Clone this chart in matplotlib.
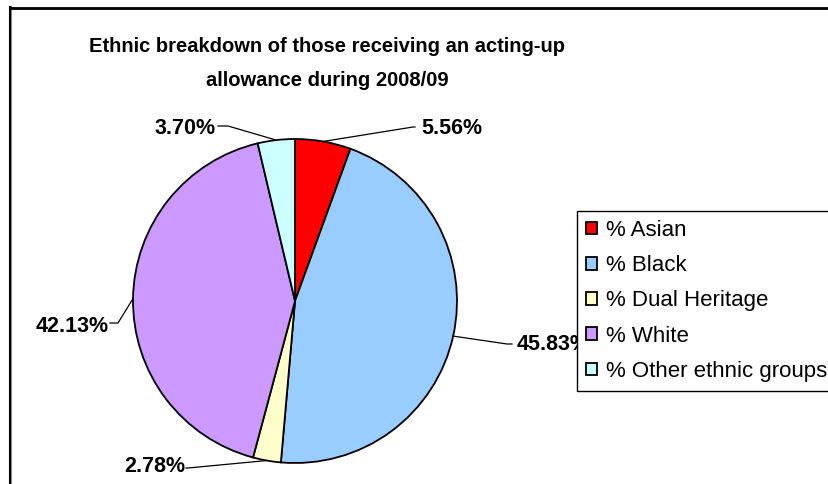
import matplotlib.pyplot as plt
import numpy as np
from matplotlib.lines import Line2D

plt.rcParams['font.family'] = ['Liberation Sans', 'DejaVu Sans']

# data
groups = ["% Asian", "% Black", "% Dual Heritage", "% White", "% Other ethnic groups"]
shares = [5.56, 45.83, 2.78, 42.13, 3.70]
label_txt = ["5.56%", "45.83%", "2.78%", "42.13%", "3.70%"]
colours = ["#FF0000", "#99CCFF", "#FFFFCC", "#CC99FF", "#CCFFFF"]

W, H = 829, 484
fig = plt.figure(figsize=(W / 100, H / 100), dpi=100)
ax = fig.add_axes([0, 0, 1, 1])

# work in pixel units, y measured from the top
def py(y):
	return H - y

cx, cy, rad = 295, 301, 162
wedges, _ = ax.pie(shares, colors=colours, startangle=90, counterclock=False,
	center=(cx, py(cy)), radius=rad,
	wedgeprops=dict(edgecolor="black", linewidth=1.3))
ax.set_xlim(0, W)
ax.set_ylim(0, H)
ax.set_aspect("equal")
ax.axis("off")

# label positions (text centre) and knee of the leader line
lab_pos = [(452, 128), (553, 345), (155, 467), (72, 326), (185, 128)]
knee = [(413, 127), (507, 344), (188, 468), (118, 323), (228, 126)]
tail = [(415, 127), (512, 344), (186, 468), (110, 323), (218, 126)]

for w, txt, lp, kn, tl in zip(wedges, label_txt, lab_pos, knee, tail):
	ang = np.deg2rad((w.theta1 + w.theta2) / 2)
	ex = cx + rad * np.cos(ang)
	ey = py(cy) + rad * np.sin(ang)
	ax.plot([ex, kn[0], tl[0]], [ey, py(kn[1]), py(tl[1])], color="black", lw=0.9, zorder=3)
	ax.text(lp[0], py(lp[1]), txt, ha="center", va="center", fontsize=15.5,
		fontweight="bold", zorder=3)

ax.text(327, py(47), "Ethnic breakdown of those receiving an acting-up",
	ha="center", va="center", fontsize=14.5, fontweight="bold")
ax.text(327, py(80), "allowance during 2008/09",
	ha="center", va="center", fontsize=14.5, fontweight="bold")

leg = ax.legend(wedges, groups, loc="upper left", bbox_to_anchor=(577 / W, 1 - 211 / H),
	fontsize=16, frameon=True, fancybox=False, edgecolor="black", framealpha=1,
	handlelength=0.5, handleheight=0.5, handletextpad=0.4, labelspacing=0.64,
	borderpad=0.4, borderaxespad=0)
leg.get_frame().set_linewidth(1.0)
leg.set_zorder(5)

# chart border (left and top only visible)
fig.add_artist(Line2D([11.5 / W, 11.5 / W], [0, 1 - 7 / H], color="#888888", lw=1.5))
fig.add_artist(Line2D([10 / W, 10 / W], [0, 1 - 7 / H], color="black", lw=1.5))
fig.add_artist(Line2D([10 / W, 1], [1 - 7.5 / H, 1 - 7.5 / H], color="black", lw=2))

fig.savefig("out.png", dpi=100)
